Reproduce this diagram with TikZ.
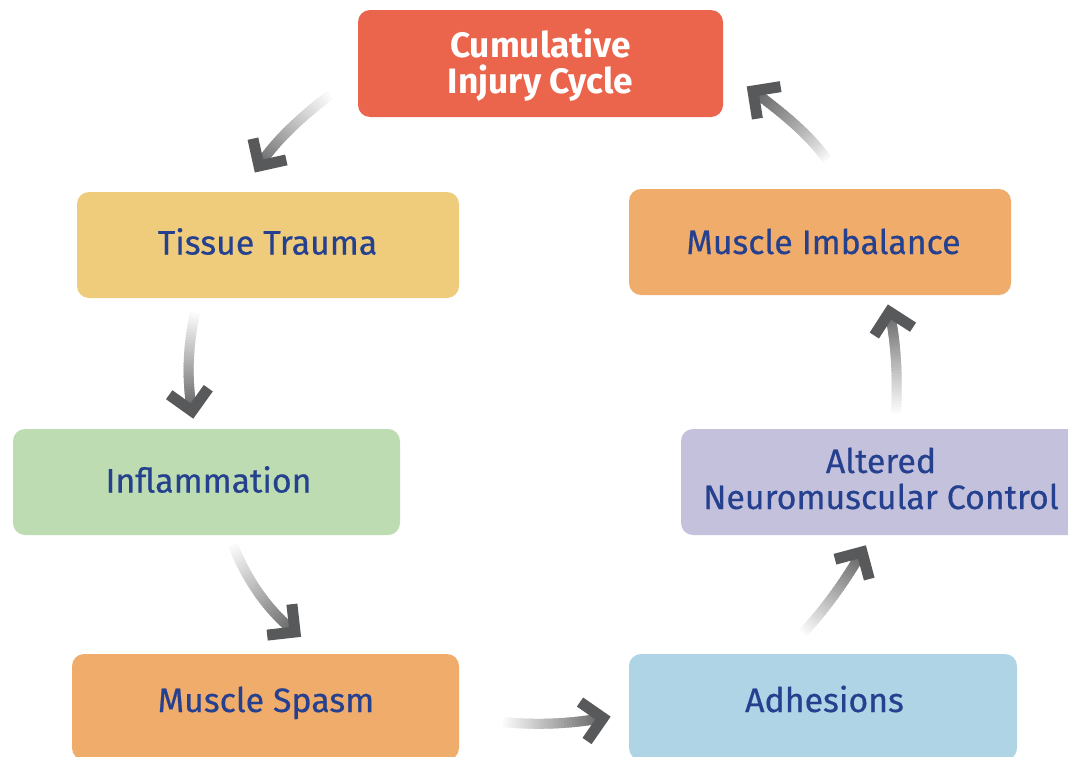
\documentclass[tikz,border=0pt]{standalone}
\usepackage{fontspec}
\setmainfont{Fira Sans}
\newfontfamily\stagefont{Fira Sans}[FakeBold=0.5]
\usetikzlibrary{calc}

\definecolor{cycred}{HTML}{EB644C}
\definecolor{cycyellow}{HTML}{EFCC7C}
\definecolor{cycorange}{HTML}{F0AC6B}
\definecolor{cycgreen}{HTML}{BDDCB1}
\definecolor{cyclilac}{HTML}{C3C1DB}
\definecolor{cycblue}{HTML}{AED4E5}
\definecolor{cyctext}{HTML}{24408E}
\definecolor{headgray}{HTML}{58595B}

\tikzset{
  stagebox/.style={rounded corners=9pt, inner sep=0pt, minimum height=79.5pt},
  stagetext/.style={anchor=base, inner sep=0pt, text=cyctext,
    font=\stagefont\fontsize{25.4pt}{27pt}\selectfont},
  titletext/.style={stagetext, text=white, font=\bfseries\fontsize{26.5pt}{27pt}\selectfont},
  arrowhead/.style={draw=headgray, line width=8.25pt, line join=miter, line cap=butt},
}

% two centred lines; the baseline is that of the first line
\newcommand\twolines[2]{\vtop{\halign{\hfil##\hfil\cr #1\cr #2\cr}}}

% quadratic curve S -> E (control C) drawn in short pieces that darken
% towards the end, finished with a chevron head
\newcommand\cyclearrow[3]{%
  \foreach \i in {0,...,35}{%
    \pgfmathsetmacro\ta{\i/36}%
    \pgfmathsetmacro\tb{min(1,(\i+1.6)/36)}%
    \pgfmathsetmacro\sh{2+60*\ta}%
    \draw[line width=7.5pt, line cap=butt, color=black!\sh]
      ($($(#1)!\ta!(#2)$)!\ta!($(#2)!\ta!(#3)$)$) --
      ($($(#1)!\tb!(#2)$)!\tb!($(#2)!\tb!(#3)$)$);
  }%
  \draw[arrowhead] ($(#3)!21pt!45:(#2)$) -- (#3) -- ($(#3)!21pt!-45:(#2)$);
}

\begin{document}
\begin{tikzpicture}[x=0.75pt, y=-0.75pt]
\useasboundingbox (0,0) rectangle (1068,757);
\begin{scope}
\clip (0,0) rectangle (1068,757);

% stages of the cycle
\node[stagebox, fill=cycred, minimum width=273.75pt, minimum height=80.25pt]
  (cum) at (540.5,63.5) {};
\node[stagebox, fill=cycyellow, minimum width=286.5pt] (tissue) at (268,245) {};
\node[stagebox, fill=cycorange, minimum width=286.5pt] (imbal) at (820,242) {};
\node[stagebox, fill=cycgreen, minimum width=290.25pt] (infl) at (206.5,482) {};
\node[stagebox, fill=cyclilac, minimum width=300pt] (altered) at (881,482) {};
\node[stagebox, fill=cycorange, minimum width=290.25pt] (spasm) at (265.5,707) {};
\node[stagebox, fill=cycblue, minimum width=291pt] (adhes) at (823,707) {};

% their labels, placed on the baseline
\node[titletext] (cum-label) at (540.5,57) {\twolines{Cumulative}{Injury Cycle}};
\node[stagetext] (tissue-label) at (267.5,254.5) {Tissue Trauma};
\node[stagetext] (imbal-label) at (823.5,254) {Muscle Imbalance};
\node[stagetext] (infl-label) at (208.5,492.5) {Inflammation};
\node[stagetext] (altered-label) at (881,473) {\twolines{Altered}{Neuromuscular Control}};
\node[stagetext] (spasm-label) at (266,712) {Muscle Spasm};
\node[stagetext] (adhes-label) at (824.5,712) {Adhesions};
\end{scope}

% arrow start, control and end points between the stages
\coordinate (a1s) at (330,95);  \coordinate (a1c) at (280,133); \coordinate (a1e) at (259,166);
\coordinate (a2s) at (195,313); \coordinate (a2c) at (184,363); \coordinate (a2e) at (192,411);
\coordinate (a3s) at (233,545); \coordinate (a3c) at (255,600); \coordinate (a3e) at (295,632);
\coordinate (a4s) at (503,722); \coordinate (a4c) at (553,727); \coordinate (a4e) at (603,718);
\coordinate (a5s) at (803,633); \coordinate (a5c) at (836,597); \coordinate (a5e) at (862,552);
\coordinate (a6s) at (896,413); \coordinate (a6c) at (899,356); \coordinate (a6e) at (889.5,312);
\coordinate (a7s) at (827,160); \coordinate (a7c) at (808,131); \coordinate (a7e) at (753,91);

\cyclearrow{a1s}{a1c}{a1e}
\cyclearrow{a2s}{a2c}{a2e}
\cyclearrow{a3s}{a3c}{a3e}
\cyclearrow{a4s}{a4c}{a4e}
\cyclearrow{a5s}{a5c}{a5e}
\cyclearrow{a6s}{a6c}{a6e}
\cyclearrow{a7s}{a7c}{a7e}
\end{tikzpicture}
\end{document}
